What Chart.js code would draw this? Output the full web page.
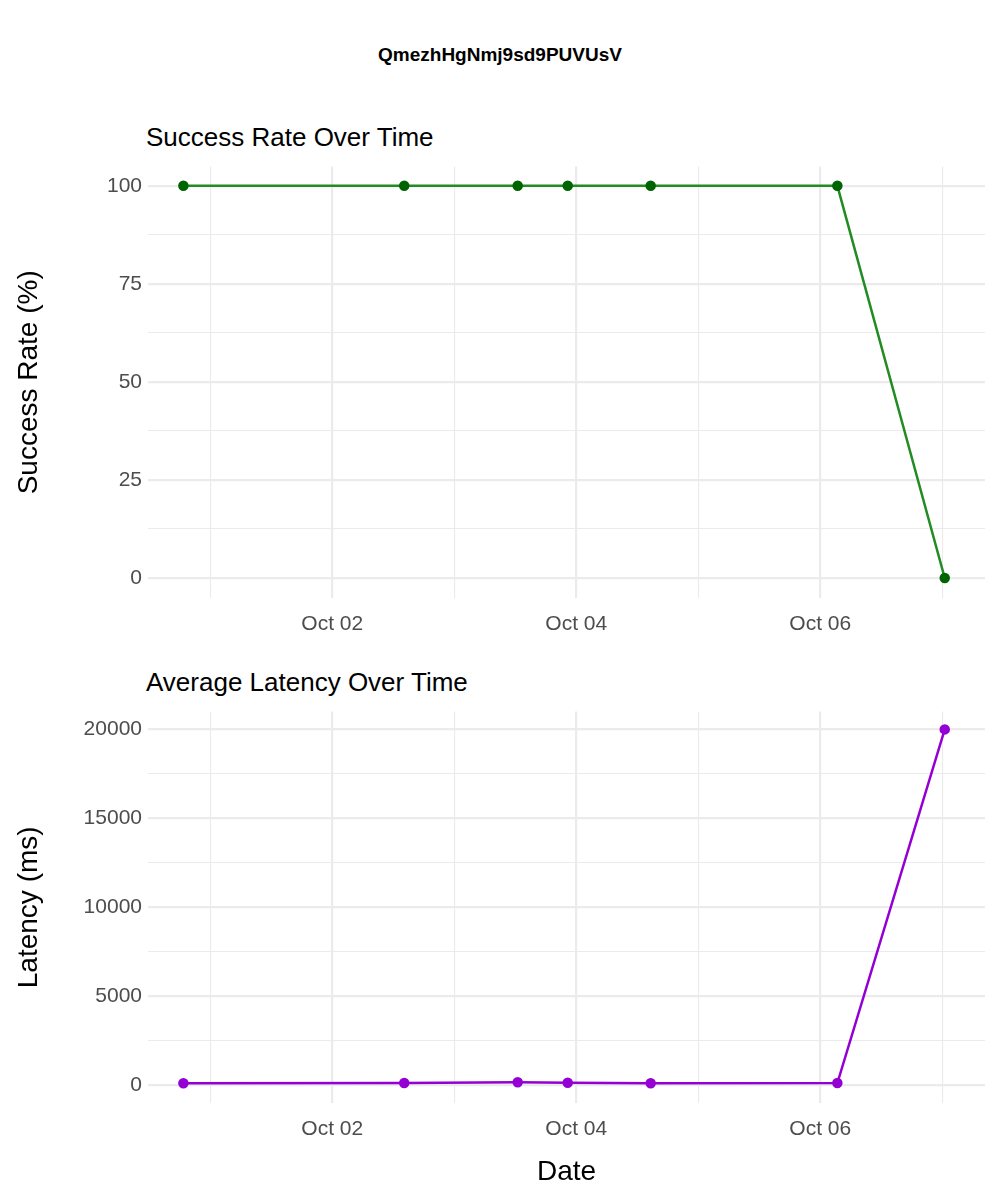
<!DOCTYPE html>
<html><head><meta charset="utf-8">
<script src="https://cdn.jsdelivr.net/npm/chart.js@4/dist/chart.umd.min.js"></script>
<style>
body{margin:0;background:#fff;font-family:"Liberation Sans",Arial,sans-serif;}
#wrap{position:relative;width:1000px;height:1200px;}
.t{position:absolute;white-space:nowrap;}
canvas{position:absolute;left:0;}
</style></head><body>
<div id="wrap">
<div class="t" style="left:0;width:1000px;text-align:center;top:44px;font-size:19px;font-weight:bold">QmezhHgNmj9sd9PUVUsV</div>
<div class="t" style="left:146px;top:122px;font-size:26px">Success Rate Over Time</div>
<div class="t" style="left:146px;top:667px;font-size:26px">Average Latency Over Time</div>
<div style="position:absolute;left:0;top:148px;width:1000px;height:502px"><canvas id="c1"></canvas></div>
<div style="position:absolute;left:0;top:693px;width:1000px;height:500px"><canvas id="c2"></canvas></div>
</div>
<script>
// days since Oct 01 00:00
var times = [-0.22, 1.59, 2.52, 2.93, 3.61, 5.14, 6.02];
var successRate = [100, 100, 100, 100, 100, 100, 0];
var latency = [110, 120, 170, 140, 110, 120, 20000];
var dayLabels = ["Oct 01", "Oct 02", "Oct 03", "Oct 04", "Oct 05", "Oct 06", "Oct 07"];

function pts(ys){ return times.map(function(t,i){ return {x:t, y:ys[i]}; }); }

function makeChart(id, ys, lineCol, ptCol, yMin, yMax, step, labelEvery, yTitle, xTitle, xH){
  new Chart(document.getElementById(id), {
    type: "line",
    data: {datasets: [{data: pts(ys), borderColor: lineCol, borderWidth: 2.5, pointBackgroundColor: ptCol,
      pointBorderColor: ptCol, pointRadius: 4, clip: false, tension: 0}]},
    options: {
      responsive: true, maintainAspectRatio: false, animation: false,
      layout: {padding: {left: 8, right: 15, top: 0, bottom: 0}},
      plugins: {legend: {display: false}, tooltip: {enabled: false}},
      scales: {
        x: {type: "linear", min: -0.51, max: 6.35,
          afterBuildTicks: function(s){ s.ticks = [0,1,2,3,4,5,6].map(function(v){ return {value: v}; }); },
          afterFit: function(s){ s.height = xH; },
          ticks: {autoSkip: false, maxRotation: 0, color: "#4d4d4d", font: {size: 21}, padding: 14,
            callback: function(v){ return v % 2 === 1 ? dayLabels[v] : ""; }},
          grid: {color: "#ebebeb", lineWidth: function(c){ return c.tick && c.tick.value % 2 === 1 ? 2.2 : 1.1; },
            drawTicks: false},
          border: {display: false},
          title: {display: !!xTitle, text: xTitle, color: "#000", font: {size: 28}, padding: {top: 0}}
        },
        y: {min: yMin, max: yMax,
          afterBuildTicks: function(s){ var t = []; for (var v = 0; v <= yMax; v += step) t.push({value: v}); s.ticks = t; },
          afterFit: function(s){ s.width = 140; },
          ticks: {color: "#4d4d4d", font: {size: 21}, padding: 6,
            callback: function(v){ return v % labelEvery === 0 ? String(v) : ""; }},
          grid: {color: "#ebebeb", lineWidth: function(c){ return c.tick && c.tick.value % labelEvery === 0 ? 2.2 : 1.1; },
            drawTicks: false},
          border: {display: false},
          title: {display: true, text: yTitle, color: "#000", font: {size: 28}, padding: {bottom: 4}}
        }
      }
    }
  });
}
makeChart("c1", successRate, "#228B22", "#006400", -5.1, 104.9, 12.5, 25, "Success Rate (%)", "", 52);
makeChart("c2", latency, "#9400D3", "#9400D3", -1000, 21000, 2500, 5000, "Latency (ms)", "Date", 90);
</script>
</body></html>
